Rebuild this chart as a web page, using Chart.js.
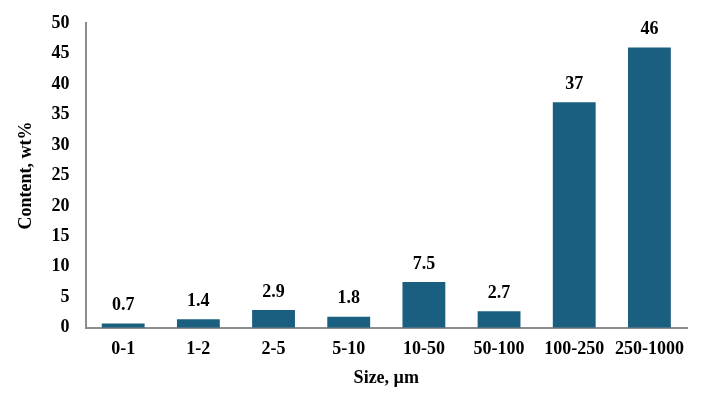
<!DOCTYPE html>
<html lang="en">
<head>
    <meta charset="UTF-8">
    <title>Particle size distribution</title>
    <script src="https://cdn.jsdelivr.net/npm/chart.js"></script>
    <style>
        body { margin: 0; background: #fff; }
        #wrap { width: 709px; height: 408px; }
    </style>
</head>
<body>
    <div id="wrap"><canvas id="myChart" width="709" height="408"></canvas></div>

    <script>
        // size fractions (µm) and content (wt%)
        const sizeLabels = ['0-1', '1-2', '2-5', '5-10', '10-50', '50-100', '100-250', '250-1000'];
        const content = [0.7, 1.4, 2.9, 1.8, 7.5, 2.7, 37, 46];
        const valueLabels = ['0.7', '1.4', '2.9', '1.8', '7.5', '2.7', '37', '46'];

        const serif = "'Liberation Serif', 'Times New Roman', serif";

        // draws the numbers above each bar
        const barValues = {
            id: 'barValues',
            afterDatasetsDraw(chart) {
                const c = chart.ctx;
                const meta = chart.getDatasetMeta(0);
                c.save();
                c.font = 'bold 18px ' + serif;
                c.fillStyle = '#000';
                c.textAlign = 'center';
                c.textBaseline = 'bottom';
                meta.data.forEach((bar, i) => {
                    c.fillText(valueLabels[i], bar.x, bar.y - 9);
                });
                c.restore();
            }
        };

        const ctx = document.getElementById('myChart').getContext('2d');
        const myChart = new Chart(ctx, {
            type: 'bar',
            data: {
                labels: sizeLabels,
                datasets: [{
                    data: content,
                    backgroundColor: '#1a5f7f',
                    barPercentage: 0.57,
                    categoryPercentage: 1
                }]
            },
            options: {
                responsive: false,
                animation: false,
                layout: { padding: { top: 23, right: 22, bottom: 15, left: 12 } },
                plugins: {
                    legend: { display: false },
                    tooltip: { enabled: false }
                },
                scales: {
                    x: {
                        grid: { display: false },
                        border: { display: true, color: '#8c8c8c', width: 2 },
                        ticks: {
                            color: '#000',
                            padding: 3,
                            maxRotation: 0,
                            autoSkip: false,
                            font: { family: serif, size: 18, weight: 'bold' }
                        },
                        title: {
                            display: true,
                            text: 'Size, µm',
                            color: '#000',
                            padding: { top: 4 },
                            font: { family: serif, size: 18, weight: 'bold' }
                        }
                    },
                    y: {
                        min: 0,
                        max: 50,
                        grid: { display: false },
                        border: { display: true, color: '#8c8c8c', width: 2 },
                        ticks: {
                            stepSize: 5,
                            color: '#000',
                            padding: 8,
                            font: { family: serif, size: 18, weight: 'bold' }
                        },
                        title: {
                            display: true,
                            text: 'Content, wt%',
                            color: '#000',
                            padding: { bottom: 6 },
                            font: { family: serif, size: 18, weight: 'bold' }
                        }
                    }
                }
            },
            plugins: [barValues]
        });
    </script>
</body>
</html>
